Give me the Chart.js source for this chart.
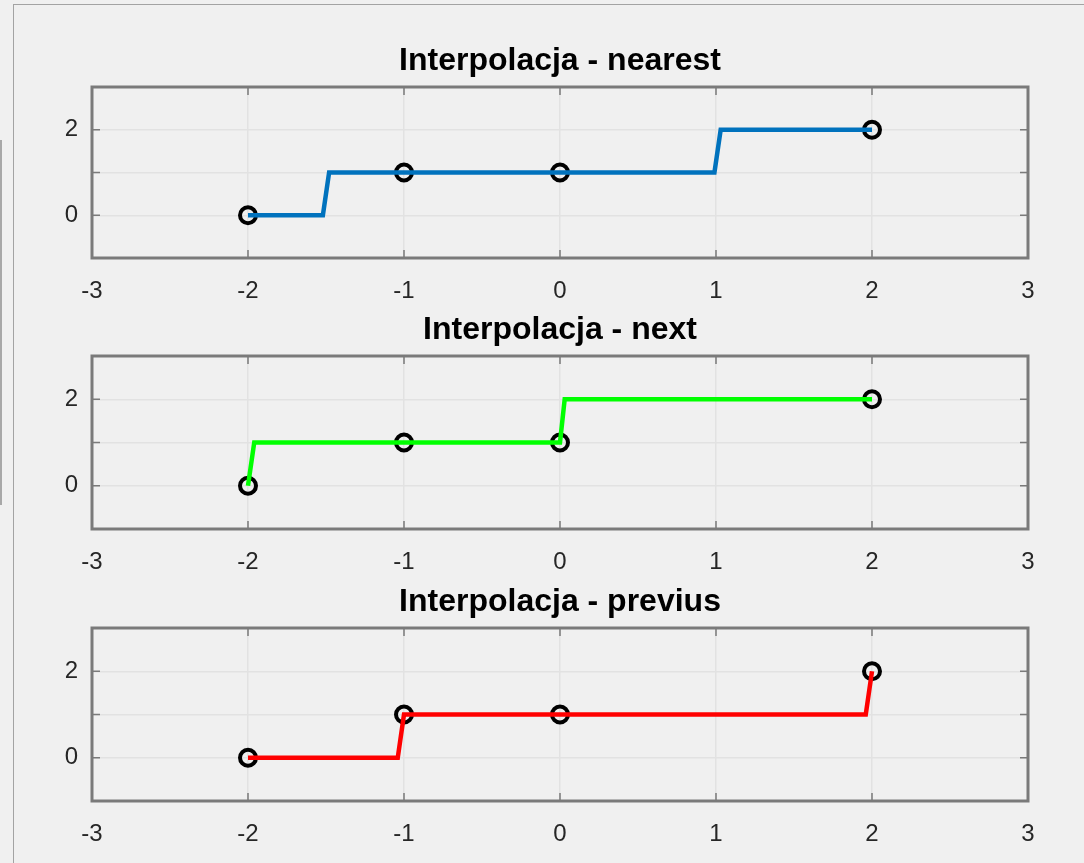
<!DOCTYPE html>
<html lang="pl">
<head>
  <meta charset="UTF-8"/>
  <title>Interpolacja</title>
  <script src="https://cdn.jsdelivr.net/npm/chart.js@4.4.1/dist/chart.umd.min.js"></script>
  <style>
    body{margin:0;background:#f0f0f0;width:1084px;height:863px;overflow:hidden;position:relative;font-family:'Liberation Sans',Arial,sans-serif;}
    .frame{position:absolute;left:13px;top:4px;right:-2px;bottom:-2px;border-left:1px solid #a3a3a3;border-top:1px solid #a3a3a3;}
    .edge{position:absolute;left:0;top:140px;width:2px;height:365px;background:#a8a8a8;}
    .plot{position:absolute;left:0;}
  </style>
</head>
<body>
<div class="frame"></div>
<div class="edge"></div>
<canvas id="p1" class="plot"></canvas>
<canvas id="p2" class="plot"></canvas>
<canvas id="p3" class="plot"></canvas>

<script>
  // measured points (black circles)
  const pointsX = [-2, -1, 0, 2];
  const pointsY = [0, 1, 1, 2];

  // interpolated curves, corners
  const nearestX = [-2, -1.52, -1.48, 0.99, 1.03, 2];
  const nearestY = [0, 0, 1, 1, 2, 2];
  const nextX = [-2, -1.96, 0, 0.03, 2];
  const nextY = [0, 1, 1, 2, 2];
  const previusX = [-2, -1.04, -1, 1.96, 2];
  const previusY = [0, 0, 1, 1, 2];

  const titles = ['Interpolacja - nearest', 'Interpolacja - next', 'Interpolacja - previus'];
  const lineColors = ['#0072bd', '#00ff00', '#ff0000'];
  const yTickLabels = [0, 2];

  const FONT = "'Liberation Sans', Arial, sans-serif";
  const AXIS = '#7a7a7a';

  const toPts = (xs, ys) => xs.map((x, i) => ({x: x, y: ys[i]}));

  // box round the axes + short inward ticks, like matlab
  const axesBox = {
    id: 'axesBox',
    beforeDatasetsDraw(chart){
      const {ctx, chartArea: a, scales: {x, y}} = chart;
      ctx.save();
      ctx.strokeStyle = AXIS;
      ctx.lineWidth = 1.5;
      ctx.beginPath();
      x.ticks.forEach(t => {
        const px = x.getPixelForValue(t.value);
        ctx.moveTo(px, a.bottom); ctx.lineTo(px, a.bottom - 8);
        ctx.moveTo(px, a.top); ctx.lineTo(px, a.top + 8);
      });
      y.ticks.forEach(t => {
        const py = y.getPixelForValue(t.value);
        ctx.moveTo(a.left, py); ctx.lineTo(a.left + 8, py);
        ctx.moveTo(a.right, py); ctx.lineTo(a.right - 8, py);
      });
      ctx.stroke();
      ctx.lineWidth = 3;
      ctx.strokeRect(a.left, a.top, a.right - a.left, a.bottom - a.top);
      ctx.restore();
    }
  };

  const tops = [0, 269, 541];
  const areaH = [171, 173, 173];
  const curves = [[nearestX, nearestY], [nextX, nextY], [previusX, previusY]];

  curves.forEach((c, i) => {
    const cv = document.getElementById('p' + (i + 1));
    cv.width = 1084;
    cv.height = 87 + areaH[i] + 53;
    cv.style.top = tops[i] + 'px';
    new Chart(cv, {
      type: 'scatter',
      data: {
        datasets: [
          {data: toPts(c[0], c[1]), showLine: true, borderColor: lineColors[i], borderWidth: 4.5,
           pointRadius: 0, fill: false, tension: 0},
          {data: toPts(pointsX, pointsY), showLine: false, pointRadius: 8, pointBorderWidth: 4,
           pointBorderColor: '#000', pointBackgroundColor: 'rgba(0,0,0,0)'}
        ]
      },
      options: {
        responsive: false, animation: false,
        layout: {padding: {left: 0, right: 56, top: 0, bottom: 13}},
        plugins: {
          legend: {display: false}, tooltip: {enabled: false},
          title: {display: true, text: titles[i], color: '#000', fullSize: false,
                  font: {family: FONT, size: 32, weight: 'bold', lineHeight: 1.2},
                  padding: {top: 42, bottom: 6.6}}
        },
        scales: {
          x: {type: 'linear', min: -3, max: 3,
              ticks: {stepSize: 1, color: '#262626', font: {family: FONT, size: 24}, padding: 19},
              grid: {color: '#e2e2e2', lineWidth: 1.5, drawTicks: false},
              border: {display: false},
              afterFit: s => { s.height = 40; }},
          y: {type: 'linear', min: -1, max: 3,
              ticks: {stepSize: 1, color: '#262626', font: {family: FONT, size: 24}, padding: 14,
                      callback: v => yTickLabels.includes(v) ? String(v) : ''},
              grid: {color: '#e2e2e2', lineWidth: 1.5, drawTicks: false},
              border: {display: false},
              afterFit: s => { s.width = 92; }}
        }
      },
      plugins: [axesBox]
    });
  });
</script>
</body>
</html>
